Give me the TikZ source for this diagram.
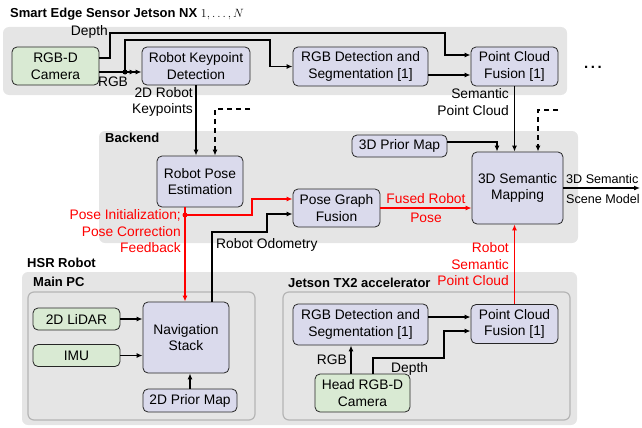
\documentclass[tikz,border=0pt]{standalone}
\usepackage{fontspec}
\setmainfont{Liberation Sans}
\usetikzlibrary{arrows.meta,calc}
\definecolor{panelgray}{HTML}{E5E5E5}
\definecolor{innerborder}{HTML}{B5B5B5}
\definecolor{procfill}{HTML}{DADAEC}
\definecolor{sensfill}{HTML}{D9EAD3}
\newcommand{\dgbody}{\fontsize{13.8}{16.5}\selectfont}
\newcommand{\dgsmall}{\fontsize{12.6}{15}\selectfont}
\newcommand{\dgtitle}{\bfseries\fontsize{13}{15}\selectfont}
\tikzset{
  base/.style={draw=black!85, line width=0.8pt, rounded corners=5pt, align=center, inner sep=1pt, font=\dgbody},
  proc/.style={base, fill=procfill},
  sens/.style={base, fill=sensfill},
  conn/.style={line width=1.3pt, -{Latex[length=6pt,width=5pt]}},
  conntwo/.style={line width=1.3pt, -{Latex[length=6pt,width=5pt]Latex[length=6pt,width=5pt]}},
  redconn/.style={conn, draw=red},
  lbl/.style={font=\dgbody, inner sep=0pt, align=center},
  rlbl/.style={lbl, text=red},
  panel/.style={fill=panelgray, rounded corners=6pt},
  innerpanel/.style={fill=panelgray, draw=innerborder, line width=1.2pt, rounded corners=6pt},
  ttl/.style={font=\dgtitle, anchor=west, inner sep=0pt},
}
\begin{document}
\begin{tikzpicture}[x=1pt,y=-1pt]
\useasboundingbox (0,0) rectangle (642,428);
% panels
\fill[panel] (3,27) rectangle (567,95);
\fill[panel] (99,131) rectangle (578,243);
\fill[panel] (22,272) rectangle (577,425);
\filldraw[innerpanel] (28,292) rectangle (255,420);
\filldraw[innerpanel] (283,292) rectangle (570,420);
% titles
\node[ttl] (t1) at (10,14) {Smart Edge Sensor Jetson NX \mdseries $1,\ldots,N$};
\node[ttl] (t2) at (105,138) {Backend};
\node[ttl] (t3) at (27,263) {HSR Robot};
\node[ttl] (t4) at (33,282) {Main PC};
\node[ttl] (t5) at (288,283) {Jetson TX2 accelerator};
% nodes top
\node[sens, minimum width=87pt, minimum height=38pt] (cam) at (55.5,66) {RGB-D\\Camera};
\node[proc, minimum width=108pt, minimum height=38pt] (kpd) at (196,66) {Robot Keypoint\\Detection};
\node[proc, minimum width=135pt, minimum height=39pt] (rgbdet) at (360.5,66.5) {RGB Detection and\\Segmentation [1]};
\node[proc, minimum width=87pt, minimum height=39pt] (pcf) at (514.5,66.5) {Point Cloud\\Fusion [1]};
\node[lbl, anchor=base, font=\bfseries\fontsize{15}{15}\selectfont] (dots) at (593,69) {.\kern2.6pt.\kern2.6pt.};
% backend
\node[proc, minimum width=86pt, minimum height=51pt] (rpe) at (200,181.5) {Robot Pose\\Estimation};
\node[proc, minimum width=87pt, minimum height=38pt] (pgf) at (336.5,208) {Pose Graph\\Fusion};
\node[proc, minimum width=91pt, minimum height=72pt] (map) at (517.5,188) {3D Semantic\\Mapping};
\node[proc, minimum width=95pt, minimum height=22pt] (prior3d) at (399.5,146) {3D Prior Map};
% main pc
\node[proc, minimum width=86pt, minimum height=71pt] (nav) at (186,337.5) {Navigation\\Stack};
\node[sens, minimum width=87pt, minimum height=22pt] (lidar) at (76.5,319) {2D LiDAR};
\node[sens, minimum width=87pt, minimum height=22pt] (imu) at (76.5,355.5) {IMU};
\node[proc, minimum width=94pt, minimum height=23pt] (prior2d) at (190,400.5) {2D Prior Map};
% tx2
\node[proc, minimum width=135pt, minimum height=41pt] (rgbdet2) at (360.5,324.5) {RGB Detection and\\Segmentation [1]};
\node[proc, minimum width=87pt, minimum height=39pt] (pcf2) at (514.5,324) {Point Cloud\\Fusion [1]};
\node[sens, minimum width=95pt, minimum height=38pt] (headcam) at (362.5,393) {Head RGB-D\\Camera};
% coordinates
\coordinate (rgbsplit) at (125,72);
\coordinate (extA) at (250,109);
\coordinate (extB) at (558,110);
\coordinate (outp) at (640,188);
\coordinate (rdot) at (185,215);
\coordinate (tA) at ($(pcf2.west)+(0,-7)$);
\coordinate (hA) at ($(headcam.north)+(-11.5,0)$);
\coordinate (hB) at ($(headcam.north)+(10.5,0)$);
\coordinate (nA) at ($(nav.north)+(26,0)$);
% top connectors
\draw[conn] ($(cam.east)+(0,-8)$) -| (110,33) -| (445,55) -- ($(pcf.west)+(0,-11.5)$);
\draw[conntwo] ($(cam.east)+(0,6)$) -- ($(kpd.west)+(0,6)$);
\draw[conn] (rgbsplit) |- (270,40) |- (rgbdet.west);
\fill (rgbsplit) circle (2.5pt);
\draw[conn] ($(rgbdet.east)+(0,8.5)$) -- ($(pcf.west)+(0,8.5)$);
\draw[conn] (kpd.south) -- (kpd.south |- rpe.north);
\draw[conn, dash pattern=on 5pt off 4pt] (extA) -| ($(rpe.north)+(15,0)$);
\draw[conn] (pcf.south) -- (pcf.south |- map.north);
\draw[conn, dash pattern=on 5pt off 4pt] (extB) -| ($(map.north)+(20.5,0)$);
\draw[conn] ($(prior3d.east)+(0,-4)$) -| ($(map.north)+(-20.5,0)$);
\draw[conn] (map.east) -- (outp);
% backend connectors
\draw[redconn] (pgf.east) -- (pgf.east -| map.west);
\draw[red, line width=1.3pt] (rpe.south -| rdot) -- (rdot);
\draw[redconn] (rdot) -| (252,199) -- ($(pgf.west)+(0,-9)$);
\draw[redconn] (rdot) -- (rdot |- nav.north);
\fill[red] (rdot) circle (2.5pt);
\draw[conn] (nA) |- (267,232) |- ($(pgf.west)+(0,6)$);
\draw[redconn] (pcf2.north) -- (pcf2.north |- map.south);
% main pc connectors
\draw[conn] (lidar.east) -- (lidar.east -| nav.west);
\draw[conn] (imu.east) -- (imu.east -| nav.west);
\draw[conn] (prior2d.north) -- (prior2d.north |- nav.south);
% tx2 connectors
\draw[conn] (tA -| rgbdet2.east) -- (tA);
\draw[conn] (hA) -- (hA |- rgbdet2.south);
\draw[conn] (hB) |- (444,358) |- ($(pcf2.west)+(0,7)$);
% labels
\node[lbl, anchor=east] (lDepth) at (108,32) {Depth};
\node[lbl] (lRGB) at (113,82) {RGB};
\node[lbl, anchor=east, align=right] (lKp) at (193,102) {2D Robot\\Keypoints};
\node[lbl, anchor=east, align=right] (lSpc) at (509,102) {Semantic\\Point Cloud};
\node[lbl, anchor=west, font=\dgsmall] (lSm1) at (566,179) {3D Semantic};
\node[lbl, anchor=west, font=\dgsmall] (lSm2) at (566,199) {Scene Model};
\node[rlbl] (lFr1) at (426,199) {Fused Robot};
\node[rlbl] (lFr2) at (426,218) {Pose};
\node[rlbl, anchor=east, align=right] (lPi) at (181,231.5) {Pose Initialization;\\Pose Correction\\Feedback};
\node[lbl, anchor=west] (lOdo) at (216,245) {Robot Odometry};
\node[rlbl, anchor=east, align=right] (lRsp) at (509,264.5) {Robot\\Semantic\\Point Cloud};
\node[lbl, anchor=east] (lRGB2) at (347,360) {RGB};
\node[lbl, anchor=west] (lDepth2) at (391,369) {Depth};
\end{tikzpicture}
\end{document}
